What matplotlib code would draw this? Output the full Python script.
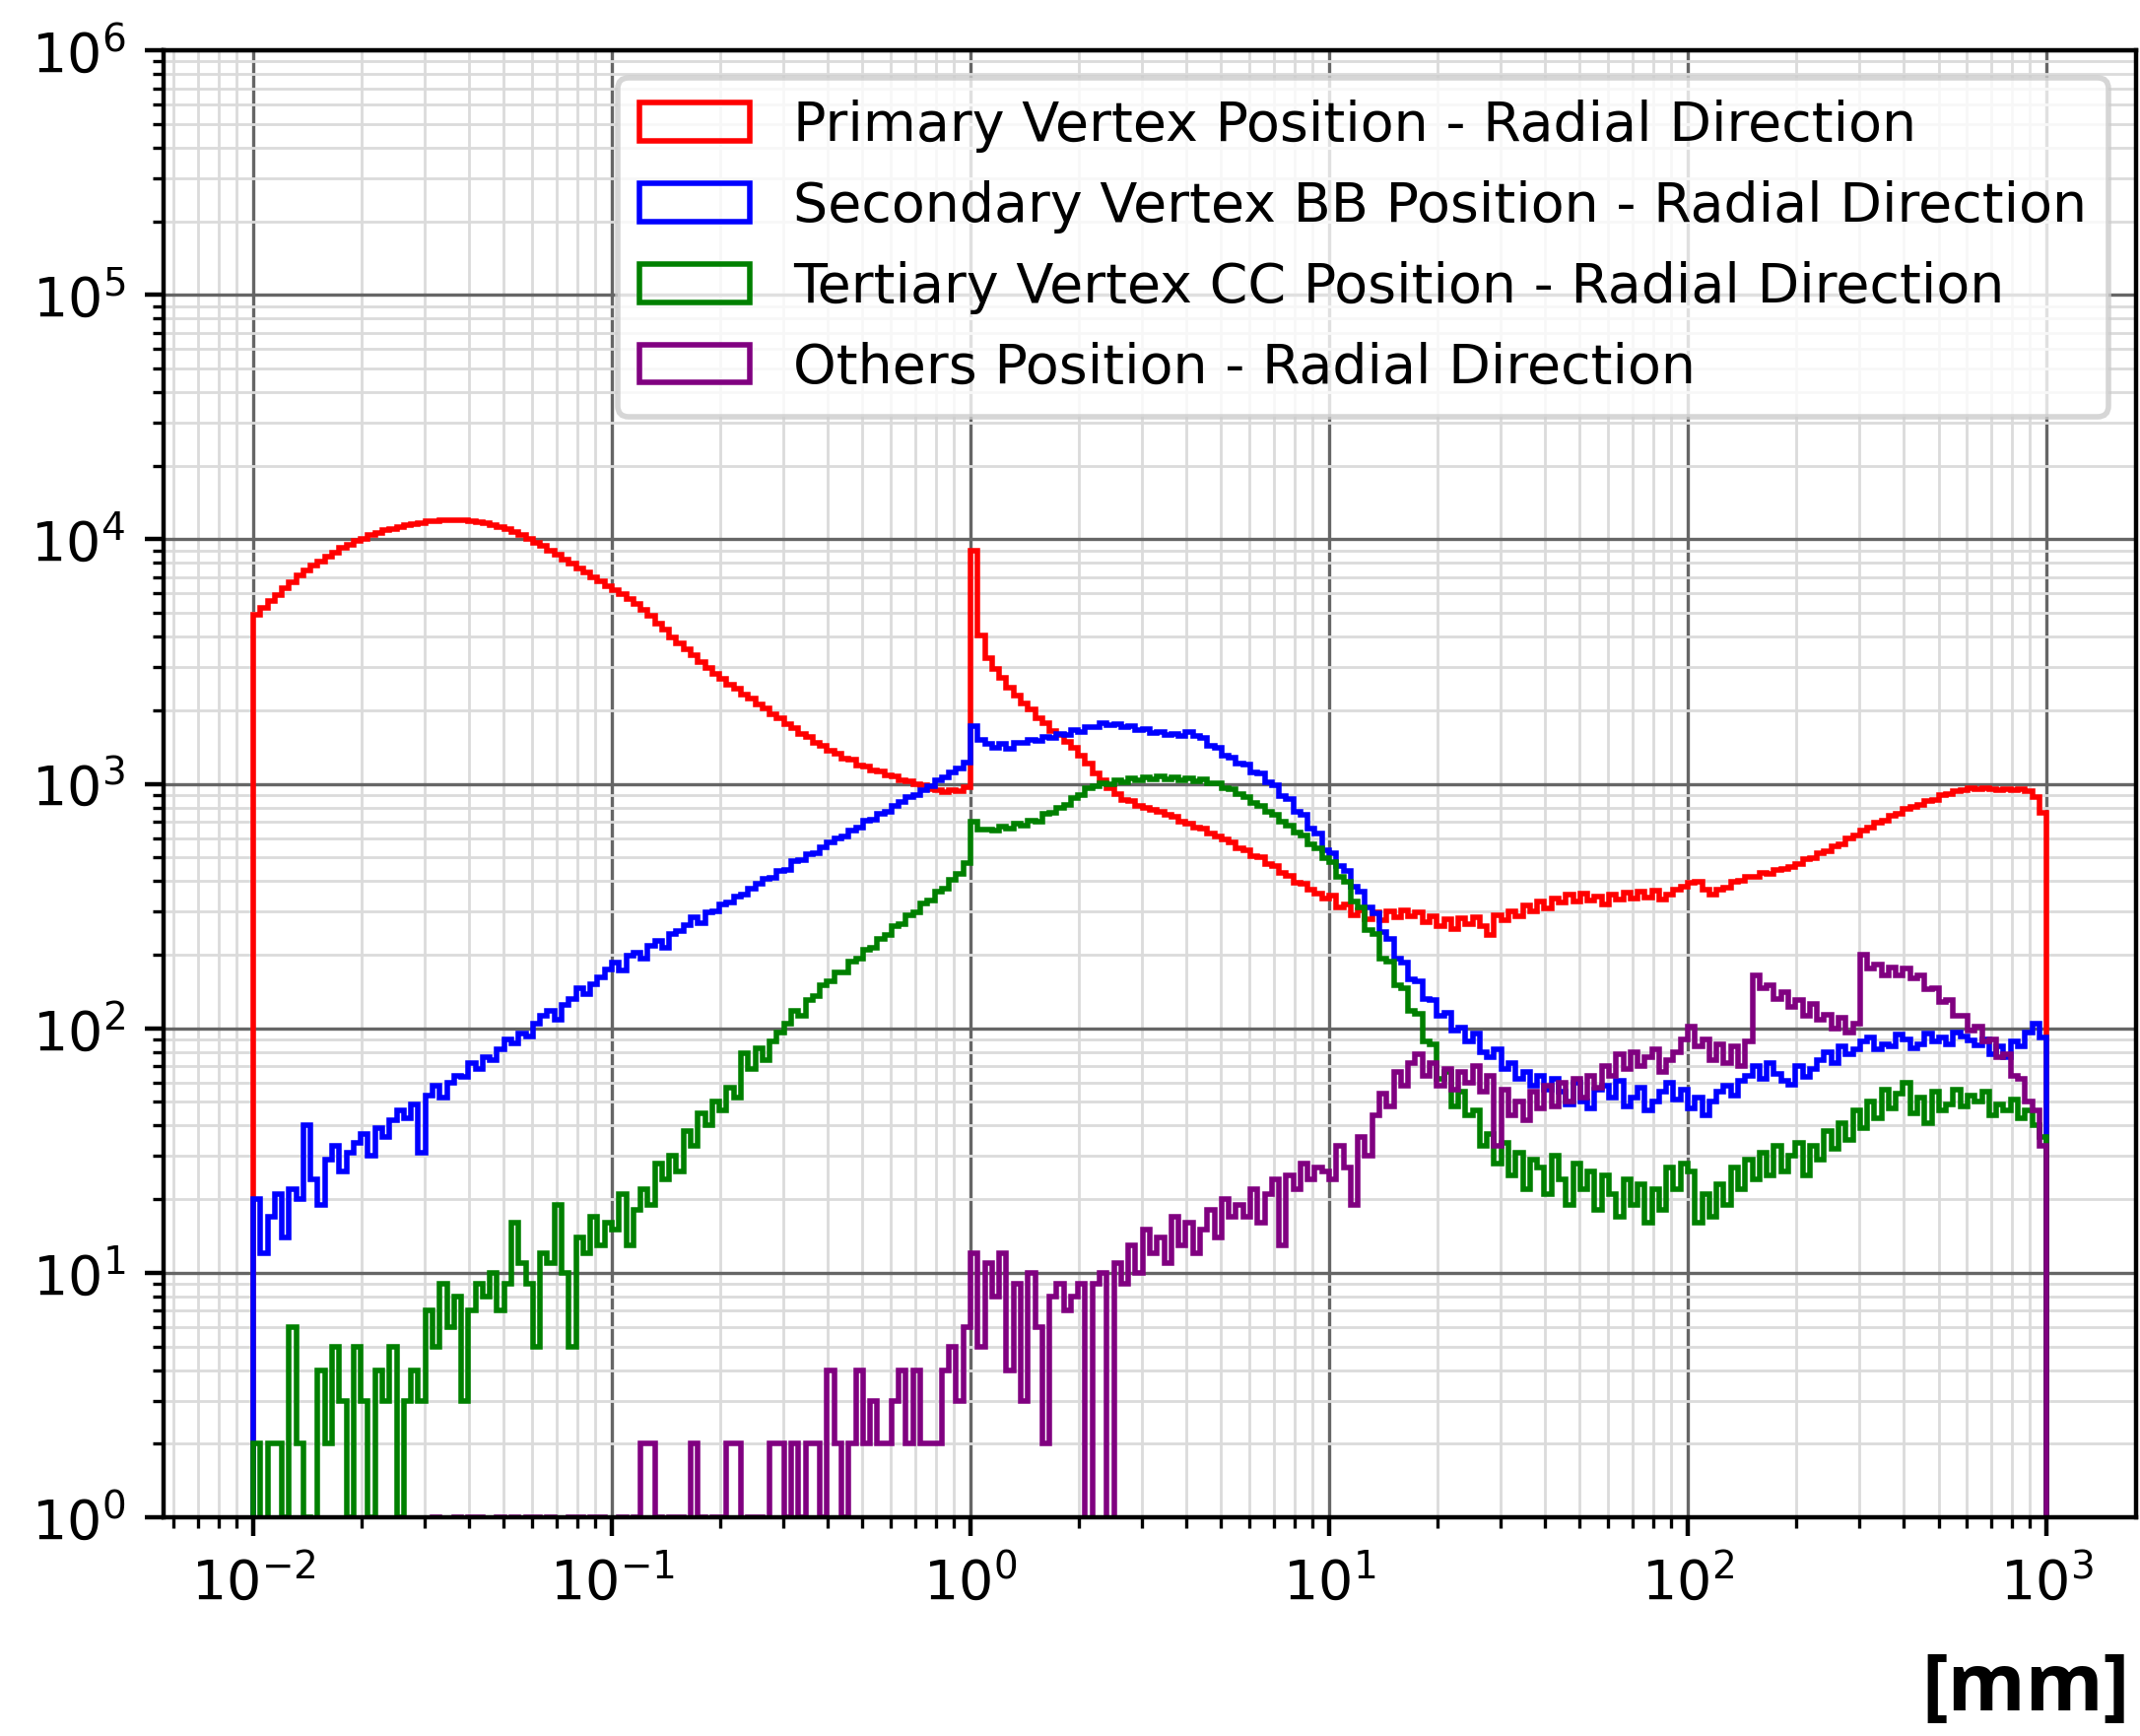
import numpy as np
import matplotlib.pyplot as plt

# radial vertex distance histogram, 50 log bins per decade from 1e-2 to 1e3 mm
edges = np.logspace(-2, 3, 251)
centers = np.sqrt(edges[:-1] * edges[1:])

# bin counts, one row per decade
primary = [
    4900, 5240, 5610, 5940, 6320, 6690, 7120, 7440, 7820, 8130, 8510, 8840, 9210, 9490, 9820, 10080, 10370, 10590, 10870, 11030,
    11270, 11380, 11570, 11680, 11820, 11880, 11970, 11990, 12020, 11940, 11910, 11780, 11670, 11430, 11270, 10980, 10720, 10380, 10070, 9680,
    9370, 8980, 8670, 8280, 7970, 7580, 7320, 6980, 6720, 6430,
    6180, 5970, 5680, 5460, 5130, 4870, 4530, 4270, 3980, 3760, 3540, 3370, 3140, 2990, 2820, 2700, 2550, 2450, 2320, 2230,
    2110, 2030, 1920, 1850, 1750, 1690, 1600, 1550, 1470, 1430, 1360, 1330, 1270, 1250, 1190, 1180, 1130, 1120, 1080, 1070,
    1030, 1020, 995, 985, 955, 945, 925, 945, 935, 965,
    9000, 4050, 3280, 2940, 2720, 2480, 2300, 2140, 2010, 1860, 1770, 1650, 1590, 1480, 1410, 1300, 1210, 1100, 1030, 960,
    910, 860, 850, 810, 800, 780, 770, 745, 735, 700, 690, 665, 655, 625, 610, 590, 575, 545, 535, 505,
    500, 470, 460, 430, 420, 395, 390, 370, 355, 340,
    348, 312, 320, 290, 305, 280, 298, 276, 300, 284, 305, 286, 299, 271, 288, 262, 280, 255, 282, 266,
    285, 262, 240, 290, 276, 302, 288, 318, 300, 331, 310, 340, 326, 352, 330, 356, 332, 345, 322, 351,
    336, 358, 340, 362, 344, 365, 335, 352, 368, 380,
    392, 398, 368, 352, 368, 375, 398, 402, 415, 418, 430, 428, 445, 449, 458, 470, 492, 498, 522, 532,
    556, 568, 598, 612, 645, 660, 692, 705, 740, 755, 790, 805, 818, 848, 862, 898, 910, 935, 942, 958,
    948, 962, 950, 945, 955, 940, 950, 935, 880, 760,
]
secondary_bb = [
    20, 12, 17, 21, 14, 22, 20, 40, 24, 19, 29, 33, 26, 31, 34, 37, 30, 39, 36, 42,
    46, 43, 49, 31, 53, 58, 52, 60, 64, 63, 72, 68, 76, 74, 82, 90, 87, 95, 93, 104,
    112, 118, 108, 125, 132, 146, 138, 152, 162, 174,
    185, 172, 198, 204, 192, 218, 228, 214, 242, 250, 265, 284, 268, 298, 302, 322, 328, 345, 351, 374,
    389, 410, 414, 440, 446, 482, 488, 515, 519, 552, 575, 600, 608, 645, 660, 705, 715, 752, 770, 812,
    845, 882, 900, 945, 980, 1035, 1065, 1115, 1150, 1220,
    1720, 1510, 1455, 1400, 1450, 1395, 1470, 1465, 1515, 1500, 1555, 1540, 1605, 1590, 1655, 1625, 1710, 1700, 1770, 1745,
    1755, 1700, 1715, 1665, 1680, 1620, 1630, 1585, 1600, 1570, 1630, 1565, 1540, 1430, 1400, 1300, 1285, 1210, 1195, 1110,
    1105, 1010, 985, 890, 865, 770, 745, 655, 625, 535,
    520, 462, 440, 380, 362, 312, 295, 248, 232, 192, 186, 158, 155, 132, 130, 112, 116, 98, 101, 88,
    95, 80, 76, 82, 68, 72, 62, 66, 58, 64, 56, 62, 55, 49, 60, 50, 47, 56, 58, 52,
    61, 48, 52, 57, 46, 50, 55, 60, 51, 56,
    47, 52, 44, 50, 55, 58, 53, 61, 64, 70, 62, 72, 65, 61, 59, 70, 63, 68, 74, 80,
    72, 84, 78, 82, 88, 92, 82, 86, 84, 94, 90, 83, 86, 95, 88, 92, 86, 96, 93, 89,
    85, 90, 78, 84, 76, 88, 84, 96, 104, 92,
]
tertiary_cc = [
    2, 0, 2, 2, 1, 6, 2, 1, 0, 4, 2, 5, 3, 1, 5, 3, 1, 4, 3, 5,
    1, 3, 4, 3, 7, 5, 9, 6, 8, 3, 7, 9, 8, 10, 7, 9, 16, 11, 9, 5,
    12, 11, 19, 10, 5, 14, 12, 17, 13, 16,
    15, 21, 13, 18, 22, 19, 28, 24, 30, 26, 38, 33, 45, 40, 50, 46, 57, 52, 79, 68,
    83, 74, 88, 96, 104, 118, 112, 130, 136, 150, 155, 170, 170, 188, 192, 210, 214, 232, 240, 262,
    266, 290, 298, 325, 334, 362, 372, 405, 428, 475,
    700, 648, 652, 641, 668, 655, 684, 672, 708, 700, 752, 762, 800, 822, 878, 902, 958, 978, 1008, 998,
    1030, 1018, 1052, 1035, 1062, 1040, 1068, 1045, 1060, 1038, 1055, 1028, 1040, 1005, 1002, 962, 950, 905, 885, 835,
    815, 765, 745, 698, 675, 632, 615, 565, 545, 495,
    478, 418, 398, 330, 312, 252, 244, 192, 188, 150, 146, 118, 115, 88, 86, 62, 66, 48, 55, 44,
    46, 33, 37, 28, 34, 25, 31, 22, 29, 27, 21, 30, 24, 19, 28, 22, 26, 18, 25, 21,
    17, 24, 19, 23, 16, 22, 18, 27, 22, 28,
    26, 16, 21, 17, 23, 19, 27, 22, 29, 24, 31, 25, 33, 26, 30, 34, 25, 33, 29, 38,
    32, 41, 35, 46, 39, 50, 43, 56, 47, 54, 60, 45, 52, 41, 55, 46, 49, 56, 48, 53,
    50, 55, 44, 49, 46, 51, 43, 46, 40, 36,
]
others = [
    0, 0, 0, 0, 0, 0, 0, 0, 0, 0, 0, 0, 0, 0, 0, 0, 0, 0, 0, 0,
    0, 0, 0, 0, 0, 1, 0, 0, 1, 0, 1, 1, 0, 0, 1, 0, 1, 0, 1, 1,
    0, 1, 0, 0, 1, 1, 0, 1, 1, 0,
    0, 1, 0, 1, 2, 2, 1, 0, 1, 1, 0, 2, 1, 0, 1, 1, 2, 2, 0, 1,
    1, 0, 2, 2, 1, 2, 1, 2, 2, 1, 4, 2, 1, 2, 4, 2, 3, 2, 2, 3,
    4, 2, 4, 2, 2, 2, 4, 5, 3, 6,
    12, 5, 11, 8, 12, 4, 9, 3, 10, 6, 2, 8, 9, 7, 8, 9, 0, 9, 10, 0,
    11, 9, 13, 10, 15, 12, 14, 11, 17, 13, 16, 12, 15, 18, 14, 20, 17, 19, 17, 22,
    16, 21, 24, 13, 25, 22, 28, 24, 27, 26,
    24, 33, 27, 19, 36, 30, 44, 54, 48, 66, 58, 72, 78, 64, 72, 58, 68, 56, 66, 60,
    70, 55, 64, 33, 56, 44, 50, 42, 55, 47, 58, 48, 60, 50, 62, 52, 64, 57, 70, 64,
    78, 68, 80, 70, 76, 82, 66, 74, 80, 90,
    102, 84, 90, 74, 86, 72, 84, 70, 88, 165, 146, 150, 132, 140, 122, 130, 112, 126, 108, 114,
    100, 110, 96, 104, 200, 176, 182, 165, 178, 164, 176, 160, 165, 145, 146, 128, 130, 112, 112, 98,
    102, 88, 90, 76, 78, 64, 62, 50, 46, 33,
]

series = [
    (primary, "red", "Primary Vertex Position - Radial Direction"),
    (secondary_bb, "blue", "Secondary Vertex BB Position - Radial Direction"),
    (tertiary_cc, "green", "Tertiary Vertex CC Position - Radial Direction"),
    (others, "purple", "Others Position - Radial Direction"),
]

fig, ax = plt.subplots(figsize=(5.43, 4.405), dpi=400)

for counts, color, label in series:
    ax.hist(centers, bins=edges, weights=counts, histtype="step",
            color=color, label=label, log=True)

ax.set_xscale("log")
ax.set_ylim(1, 1e6)
ax.grid(which="major", color="0.4", linewidth=0.6)
ax.grid(which="minor", color="0.86", linewidth=0.5)
ax.legend(loc="upper right")

fig.subplots_adjust(left=0.0764, right=0.9982, bottom=0.126, top=0.971)
fig.text(0.995, 0.004, "[mm]", ha="right", va="bottom",
         fontsize=14.5, fontweight="bold", family=["Open Sans", "Roboto", "DejaVu Sans"])

fig.savefig("out.png", dpi=400)
